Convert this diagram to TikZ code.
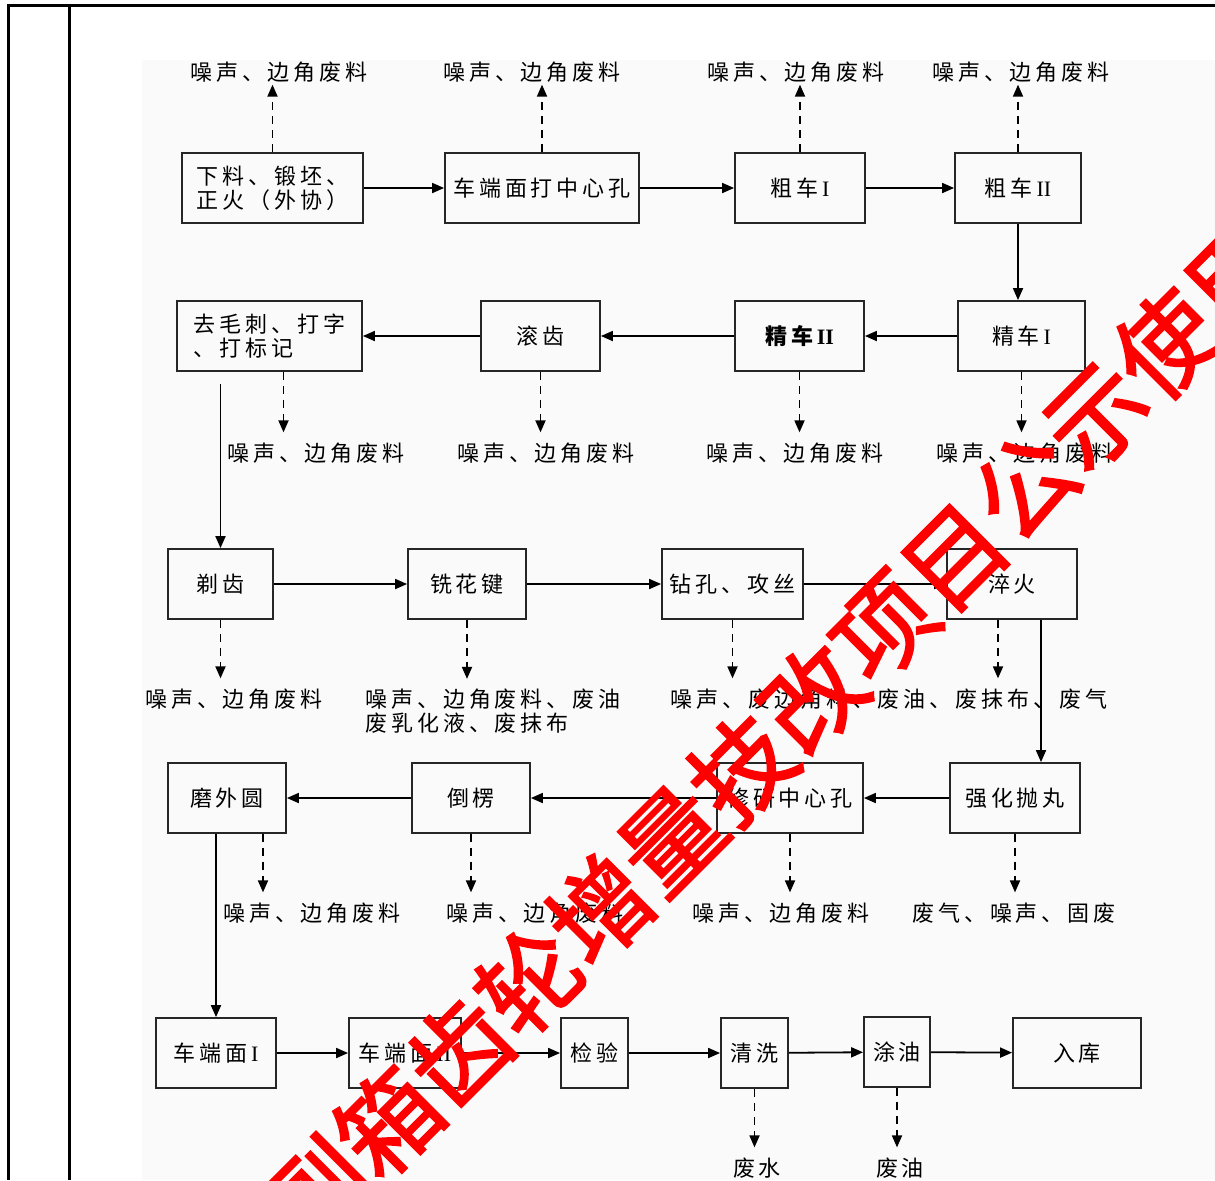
\documentclass[tikz,border=0pt]{standalone}
\usepackage{fontspec}
\newfontfamily\cjk[LetterSpace=18]{Noto Sans CJK SC}
\newfontfamily\wmfont[FakeBold=2]{Noto Sans CJK SC}
\newfontfamily\romfont{Liberation Serif}
\usepackage{tikz}
\usetikzlibrary{arrows.meta,positioning,calc}
\definecolor{wmred}{RGB}{255,0,0}
\definecolor{scangray}{RGB}{250,250,250}

\begin{document}
\begin{tikzpicture}[x=0.5pt,y=-0.5pt,font=\cjk\fontsize{11}{12}\selectfont]
  \tikzstyle{proc}=[rectangle,draw=black!85,line width=0.9pt,minimum height=35pt,inner sep=2pt,align=center]
  \tikzstyle{waste}=[inner sep=1pt,align=left]
  \tikzstyle{flow}=[-{Triangle[length=6pt,width=5pt]},line width=0.9pt]
  \tikzstyle{emit}=[-{Triangle[length=6pt,width=5pt]},line width=0.9pt,dash pattern=on 4pt off 3pt]
  \tikzstyle{emitdn}=[emit,shorten >=4pt]

  \useasboundingbox (0,0) rectangle (1215,1180);
  \fill[scangray] (142,60) rectangle (1215,1180);
  \draw[line width=1.5pt] (8,1180) -- (8,5) -- (1215,5);
  \draw[line width=1.5pt] (69,5) -- (69,1180);

  % row 1
  \node[proc,minimum width=90.5pt] (xl) at (272.5,188) {下料、锻坯、\\正火（外协）};
  \node[proc,minimum width=97pt] (dmk) at (542,188) {车端面打中心孔};
  \node[proc,minimum width=65pt] (cc1) at (800,188) {粗车\,{\romfont I}};
  \node[proc,minimum width=63pt] (cc2) at (1018,188) {粗车\,{\romfont II}};
  \node[waste] (n1a) at (279,72) {噪声、边角废料};
  \node[waste] (n1b) at (532,72) {噪声、边角废料};
  \node[waste] (n1c) at (796,72) {噪声、边角废料};
  \node[waste] (n1d) at (1021,72) {噪声、边角废料};

  % row 2
  \node[proc,minimum width=92.5pt,align=left] (qmc) at (269.5,336) {去毛刺、打字\\、打标记};
  \node[proc,minimum width=59.5pt] (gc) at (540.5,336) {滚齿};
  \node[proc,minimum width=64.5pt] (jc2) at (799.5,336) {\bfseries 精车\,{\romfont II}};
  \node[proc,minimum width=63.5pt] (jc1) at (1021.5,336) {精车\,{\romfont I}};
  \node[waste] (n2a) at (316,453) {噪声、边角废料};
  \node[waste] (n2b) at (546,453) {噪声、边角废料};
  \node[waste] (n2c) at (795,453) {噪声、边角废料};
  \node[waste] (n2d) at (1025,453) {噪声、边角废料};

  % row 3
  \node[proc,minimum width=52.5pt] (tc) at (220.5,584) {剃齿};
  \node[proc,minimum width=59pt] (xhj) at (467,584) {铣花键};
  \node[proc,minimum width=70.5pt] (zk) at (732.5,584) {钻孔、攻丝};
  \node[proc,minimum width=65pt] (ch) at (1012,584) {淬火};
  \node[waste] (n3a) at (234,699) {噪声、边角废料};
  \node[waste] (n3b) at (493,711.5) {噪声、边角废料、废油\\废乳化液、废抹布};
  \node[waste] (n3c) at (889,699) {噪声、废边角料、废油、废抹布、废气};

  % row 4
  \node[proc,minimum width=59pt] (mwy) at (227,798) {磨外圆};
  \node[proc,minimum width=59pt] (dl) at (471,798) {倒楞};
  \node[proc,minimum width=73pt] (xy) at (790,798) {修研中心孔};
  \node[proc,minimum width=65pt] (qh) at (1015,798) {强化抛丸};
  \node[waste] (n4a) at (312,913) {噪声、边角废料};
  \node[waste] (n4b) at (535,913) {噪声、边角废料};
  \node[waste] (n4c) at (781,913) {噪声、边角废料};
  \node[waste] (n4d) at (1014,913) {废气、噪声、固废};

  % row 5
  \node[proc,minimum width=60pt] (cd1) at (216,1053) {车端面\,{\romfont I}};
  \node[proc,minimum width=56pt] (cd2) at (405,1053) {车端面\,{\romfont II}};
  \node[proc,minimum width=33.5pt] (jy) at (594.5,1053) {检验};
  \node[proc,minimum width=33.5pt] (qx) at (754.5,1053) {清洗};
  \node[proc,minimum width=33pt] (ty) at (897,1052) {涂油};
  \node[proc,minimum width=64pt] (rk) at (1077,1053) {入库};
  \node[waste] (n5a) at (757,1168) {废水};
  \node[waste] (n5b) at (900,1168) {废油};

  % main flow
  \draw[flow] (xl) -- (dmk);
  \draw[flow] (dmk) -- (cc1);
  \draw[flow] (cc1) -- (cc2);
  \draw[flow] (cc2.south) -- (cc2.south |- jc1.north);
  \draw[flow] (jc1) -- (jc2);
  \draw[flow] (jc2) -- (gc);
  \draw[flow] (gc) -- (qmc);
  \draw[flow] ($(qmc.south -| tc.north)+(0,12)$) -- (tc.north);
  \draw[flow] (tc) -- (xhj);
  \draw[flow] (xhj) -- (zk);
  \draw[flow] (zk) -- (ch);
  \draw[flow] ([xshift=14.5pt]ch.south) -- ([xshift=14.5pt]ch.south |- qh.north);
  \draw[flow] (qh) -- (xy);
  \draw[flow] (xy) -- (dl);
  \draw[flow] (dl) -- (mwy);
  \draw[flow] (cd1.north |- mwy.south) -- (cd1.north);
  \draw[flow] (cd1) -- (cd2);
  \draw[flow] (cd2) -- (jy);
  \draw[flow] (jy) -- (qx);
  \draw[flow] (qx) -- (ty);
  \draw[flow] (ty) -- (rk);

  % wastes
  \draw[emit] (xl.north) -- (xl.north |- n1a.south);
  \draw[emit] (dmk.north) -- (dmk.north |- n1b.south);
  \draw[emit] (cc1.north) -- (cc1.north |- n1c.south);
  \draw[emit] (cc2.north) -- (cc2.north |- n1d.south);
  \draw[emitdn] ([xshift=7pt]qmc.south) -- ([xshift=7pt]qmc.south |- n2a.north);
  \draw[emitdn] (gc.south) -- (gc.south |- n2b.north);
  \draw[emitdn] (jc2.south) -- (jc2.south |- n2c.north);
  \draw[emitdn] (jc1.south) -- (jc1.south |- n2d.north);
  \draw[emitdn] (tc.south) -- (tc.south |- n3a.north);
  \draw[emitdn] (xhj.south) -- (xhj.south |- n3b.north);
  \draw[emitdn] (zk.south) -- (zk.south |- n3c.north);
  \draw[emitdn] ([xshift=-7pt]ch.south) -- ([xshift=-7pt]ch.south |- n3c.north);
  \draw[emitdn] ([xshift=18pt]mwy.south) -- ([xshift=18pt]mwy.south |- n4a.north);
  \draw[emitdn] (dl.south) -- (dl.south |- n4b.north);
  \draw[emitdn] (xy.south) -- (xy.south |- n4c.north);
  \draw[emitdn] (qh.south) -- (qh.south |- n4d.north);
  \draw[emitdn] (qx.south) -- (qx.south |- n5a.north);
  \draw[emitdn] (ty.south) -- (ty.south |- n5b.north);

  % watermark
  \begin{scope}
    \clip (0,0) rectangle (1215,1180);
    \node[text=wmred,font=\wmfont\fontsize{50}{50}\selectfont,rotate=45] (wm) at (777,733) {副箱齿轮增量技改项目公示使用};
  \end{scope}
\end{tikzpicture}
\end{document}
